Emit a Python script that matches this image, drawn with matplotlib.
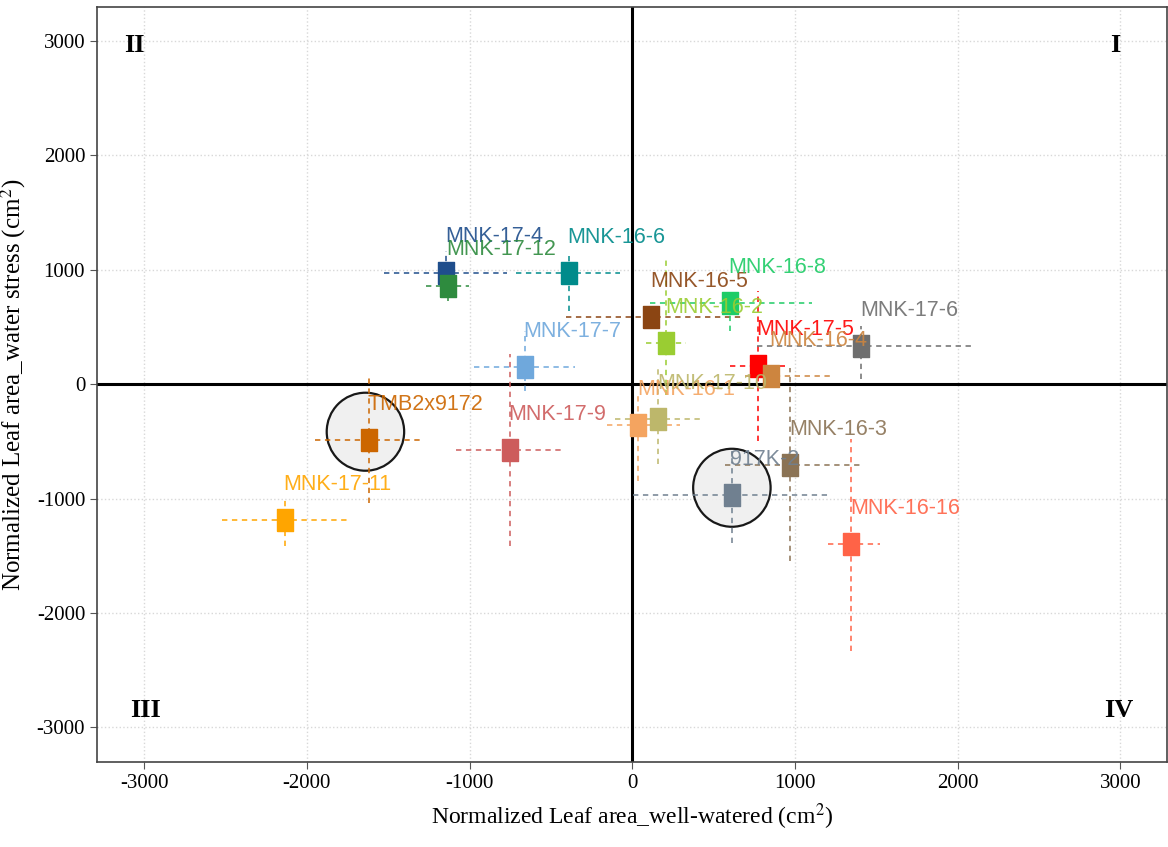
import numpy as np
import matplotlib
matplotlib.use('Agg')
from matplotlib import pyplot as plt
from matplotlib.patches import Ellipse

plt.rcParams['mathtext.fontset'] = 'stix'

# genotype labels, means and (low, high) error extents
names = ['MNK-17-4', 'MNK-17-12', 'MNK-16-6', 'MNK-16-5', 'MNK-16-8', 'MNK-16-2',
         'MNK-17-7', 'MNK-17-5', 'MNK-16-4', 'MNK-17-6', 'MNK-16-1', 'MNK-17-10',
         'TMB2x9172', 'MNK-17-9', 'MNK-17-11', '917K-2', 'MNK-16-3', 'MNK-16-16']
lx = [-1144, -1135, -391, 116, 600, 208, -661, 771, 850, 1407, 37, 159,
      -1621, -752, -2134, 612, 972, 1346]
ly = [975, 860, 971, 586, 709, 359, 149, 160, 70, 332, -359, -306,
      -490, -577, -1190, -971, -709, -1400]
xerr_lo = [379, 131, 325, 526, 490, 122, 311, 171, 159, 642, 190, 263,
           330, 331, 386, 606, 403, 141]
xerr_hi = [373, 132, 318, 557, 507, 123, 306, 177, 392, 691, 257, 257,
           343, 330, 391, 611, 435, 177]
yerr_lo = [161, 134, 332, 60, 245, 450, 210, 659, 90, 288, 491, 394,
           551, 840, 227, 420, 840, 936]
yerr_hi = [189, 85, 175, 60, 91, 760, 315, 654, 90, 175, 280, 463,
           542, 839, 184, 385, 849, 919]
colors = ['#1F4E8C', '#2E8B3E', '#008B8B', '#8B4513', '#1ECC66', '#9ACD32',
          '#6FA8DC', '#FF0000', '#CD853F', '#6E6E6E', '#F4A460', '#BDB76B',
          '#CC6600', '#CD5C5C', '#FFA500', '#708090', '#8B7355', '#FF6347']

ticks = [-3000, -2000, -1000, 0, 1000, 2000, 3000]
quadrants = [('I', 2970, 2960), ('II', -3060, 2960), ('III', -2990, -2850), ('IV', 2990, -2850)]
circles = [(-1640, -415), (612, -905)]

serif = ['Liberation Serif', 'DejaVu Serif']
narrow = ['Liberation Sans Narrow', 'Liberation Sans', 'DejaVu Sans']

fig = plt.figure(figsize=(11.68, 8.47), dpi=100)
ax = fig.add_axes([0.083, 0.10, 0.916, 0.892])

ax.set_xlim(-3290, 3285)
ax.set_ylim(-3305, 3300)
ax.set_xticks(ticks)
ax.set_yticks(ticks)
ax.set_xticklabels([str(t) for t in ticks], fontfamily=serif, fontsize=15)
ax.set_yticklabels([str(t) for t in ticks], fontfamily=serif, fontsize=15)
ax.tick_params(direction='out', length=5, color='#555555')
ax.grid(True, linestyle=':', color='#d8d8d8', linewidth=1)
ax.set_axisbelow(True)
for s in ax.spines.values():
    s.set_color('#444444')
    s.set_linewidth(1.2)

ax.axhline(0, color='black', lw=2.2, zorder=2)
ax.axvline(0, color='black', lw=2.2, zorder=2)

# circles round the two checks
for cx, cy in circles:
    ax.add_patch(Ellipse((cx, cy), 2 * 238, 2 * 341, facecolor='#efefef',
                         edgecolor='black', lw=1.6, alpha=0.9, zorder=3))

rect = [(-0.36, -0.5), (0.36, -0.5), (0.36, 0.5), (-0.36, 0.5), (-0.36, -0.5)]
for i in range(len(names)):
    eb = ax.errorbar(lx[i], ly[i],
                     xerr=[[xerr_lo[i]], [xerr_hi[i]]],
                     yerr=[[yerr_lo[i]], [yerr_hi[i]]],
                     fmt='none', ecolor=colors[i], elinewidth=1.1, capsize=0,
                     zorder=4)
    for lc in eb[2]:
        lc.set_linestyle((0, (3.5, 3)))
    ax.plot(lx[i], ly[i], marker=rect, ms=16, color=colors[i], mec=colors[i],
            ls='none', zorder=5)
    ax.annotate(names[i], (lx[i], ly[i]), xytext=(-1, 26), textcoords='offset points',
                ha='left', va='center', color=colors[i], fontsize=15.5,
                fontfamily=narrow, alpha=0.9, zorder=6)

for lab, qx, qy in quadrants:
    ax.text(qx, qy, lab, ha='center', va='center', fontsize=19,
            fontweight='bold', fontfamily=serif)

ax.set_xlabel('Normalized Leaf area_well-watered (cm$^2$)', fontfamily=serif,
              fontsize=17, labelpad=6)
ax.set_ylabel('Normalized Leaf area_water stress (cm$^2$)', fontfamily=serif,
              fontsize=18, labelpad=6)

fig.savefig('out.png', dpi=100)
